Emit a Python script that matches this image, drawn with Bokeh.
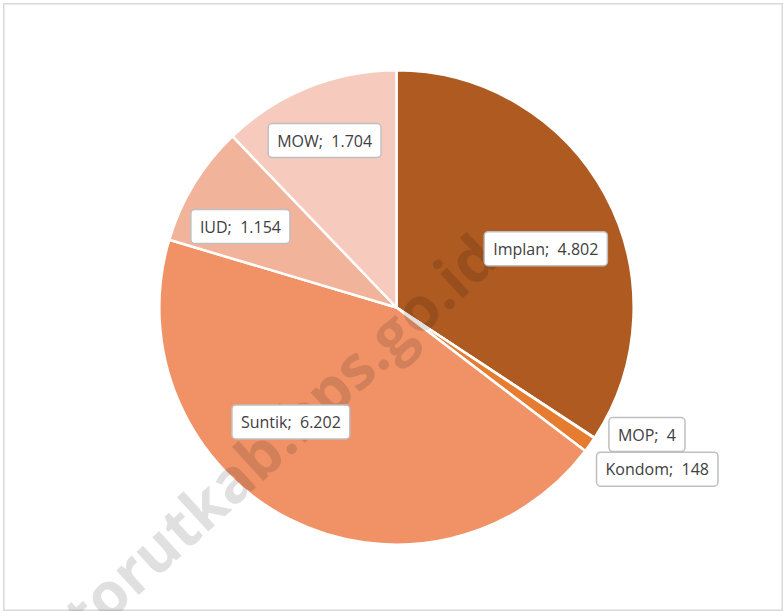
import math
from bokeh.plotting import figure
from bokeh.models import Range1d, ColumnDataSource
from bokeh.core.properties import value
from bokeh.embed import file_html
from bokeh.resources import INLINE

# ---------------- data ----------------
categories = ["Implan", "MOP", "Kondom", "Suntik", "IUD", "MOW"]
values = [4802, 4, 148, 6202, 1154, 1704]
colors = ["#AE5A21", "#C9621F", "#E67C30", "#F09266", "#F2B39B", "#F6CBBD"]
watermark_text = "torutkab.bps.go.id"

# ---------------- layout / style ----------------
W, H = 780, 608
R_PX = 236.0
CX_PX, CY_PX = 393.0, 304.0          # pie centre in figure pixels (from left / top)
label_angle_deg = [21.5, -26.9, -31.8, -132.7, 152.6, 113.3]
label_rfrac = [0.68, 1.19, 1.30, 0.66, 0.745, 0.77]
wm_pos = (0.377, 0.263)
wm_angle_deg = 42.5

total = float(sum(values))
starts, ends = [], []
cum = 0.0
for v in values:
    starts.append(math.pi / 2 - 2 * math.pi * cum / total)
    cum += v
    ends.append(math.pi / 2 - 2 * math.pi * cum / total)

def fmt(v):
    return f"{v:,}".replace(",", ".")

labels = [f"{c};\u00a0 {fmt(v)}" for c, v in zip(categories, values)]
lx = [r * math.cos(math.radians(a)) for r, a in zip(label_rfrac, label_angle_deg)]
ly = [r * math.sin(math.radians(a)) for r, a in zip(label_rfrac, label_angle_deg)]

wedge_src = ColumnDataSource(dict(start=starts, end=ends, color=colors, cat=categories))
label_src = ColumnDataSource(dict(x=lx, y=ly, text=labels))

p = figure(
    width=W, height=H,
    x_range=Range1d(-CX_PX / R_PX, (W - CX_PX) / R_PX),
    y_range=Range1d(-(H - CY_PX) / R_PX, CY_PX / R_PX),
    x_axis_type=None, y_axis_type=None,
    toolbar_location=None, output_backend="svg",
    min_border=0,
)
p.styles = {"margin-left": "3px", "margin-top": "3px"}
p.outline_line_color = "#D9D9D9"
p.outline_line_width = 2
p.background_fill_color = "white"
p.border_fill_color = "white"

p.wedge(x=0, y=0, radius=1.005, start_angle="start", end_angle="end",
        direction="clock", fill_color="color", line_color="white",
        line_width=2.5, source=wedge_src)

p.text(x=[wm_pos[0]], y=[wm_pos[1]], text=[watermark_text],
       angle=math.radians(wm_angle_deg), text_align="right",
       text_baseline="alphabetic", text_font=value("Open Sans"),
       text_font_style="bold", text_font_size="61px",
       text_color="black", text_alpha=0.12)

p.text(x="x", y="y", text="text", source=label_src,
       text_align="center", text_baseline="middle",
       text_font=value("Open Sans"), text_font_size="16px",
       text_color="#404040",
       background_fill_color="white", border_line_color="#BFBFBF",
       border_line_width=1.5, border_radius=4,
       padding=dict(left=9, right=9, top=6, bottom=6))

open("out.html", "w").write(file_html(p, INLINE))
